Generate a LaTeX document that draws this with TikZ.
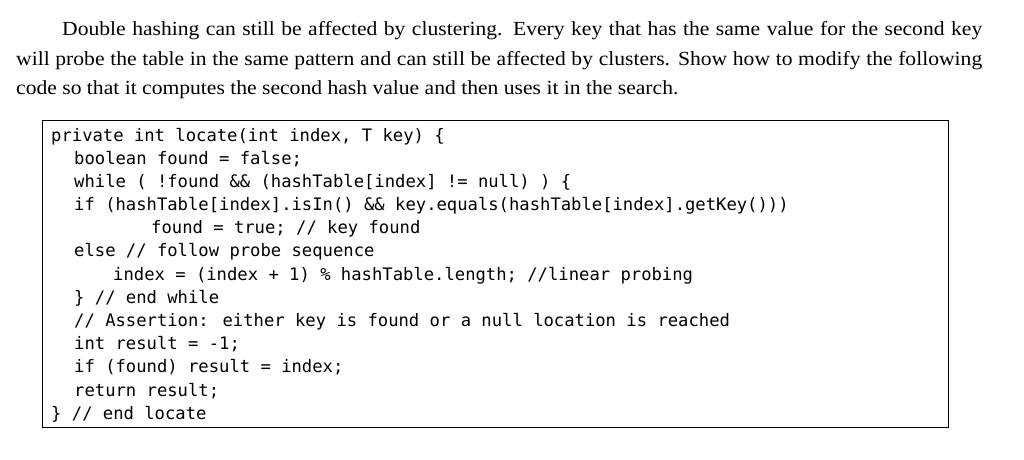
\documentclass[tikz,border=0pt]{standalone}
\usepackage{fontspec}
\setmainfont[FakeStretch=1.08]{Liberation Serif}
\newfontfamily\codefont{DejaVu Sans Mono}
\begin{document}
\begin{tikzpicture}[x=1pt,y=1pt,
  para/.style={anchor=base west,inner sep=0pt,font=\fontsize{20}{23}\selectfont},
  code/.style={anchor=base west,inner sep=0pt,font=\codefont\fontsize{17.2}{20}\selectfont}]
\useasboundingbox[fill=white] (0,0) rectangle (1024,459);
\node[para] (p1) at (62,423) {\makebox[920pt][s]{Double hashing can still be affected by clustering. Every key that has the same value for the second key}};
\node[para] (p2) at (16,394) {\makebox[966pt][s]{will probe the table in the same pattern and can still be affected by clusters. Show how to modify the following}};
\node[para] (p3) at (16,365) {code so that it computes the second hash value and then uses it in the search.};
\draw[line width=1pt] (42,32) rectangle (948,339);
\node[code] (c1) at (51,318.0) {private int locate(int index, T key) \{};
\node[code] (c2) at (74,295.0) {boolean found = false;};
\node[code] (c3) at (74,271.8) {while ( !found \&\& (hashTable[index] != null) ) \{};
\node[code] (c4) at (74,248.6) {if (hashTable[index].isIn() \&\& key.equals(hashTable[index].getKey()))};
\node[code] (c5) at (151,225.4) {found = true; // key found};
\node[code] (c6) at (74,202.2) {else // follow probe sequence};
\node[code] (c7) at (113,179.0) {index = (index + 1) \% hashTable.length; //linear probing};
\node[code] (c8) at (74,155.8) {\} // end while};
\node[code] (c9) at (74,132.6) {// Assertion: either key is found or a null location is reached};
\node[code] (c10) at (74,109.4) {int result = -1;};
\node[code] (c11) at (74,86.2) {if (found) result = index;};
\node[code] (c12) at (74,63.0) {return result;};
\node[code] (c13) at (51,39.8) {\} // end locate};
\end{tikzpicture}
\end{document}
